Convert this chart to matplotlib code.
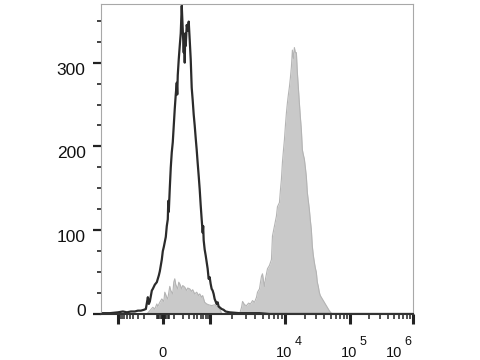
import numpy as np
import matplotlib
matplotlib.use("Agg")
import matplotlib.pyplot as plt
import matplotlib.transforms as mtransforms

plt.rcParams['font.family'] = ['Liberation Sans', 'DejaVu Sans']

# display channel (0 = left edge of the plot) and event counts
black_ch = [0, 9, 17, 22, 26, 30, 34, 37, 40, 43, 45, 47, 48, 49, 51, 52, 54, 56, 58,
            59, 61, 62, 63, 65, 66, 67, 67.5, 68, 69, 70, 71, 72, 73, 74, 75, 76, 76.5,
            77, 78, 79, 80, 81, 82, 83, 83.5, 84, 84.5, 85, 86, 87, 88, 89, 90, 91, 92,
            93, 94, 95, 96, 97, 98, 99, 100, 101, 102, 102.5, 103, 104, 105, 106, 107,
            108, 109, 110, 111, 112, 113, 114, 115, 116, 117, 118, 119, 121, 123, 125,
            129, 139, 149, 159, 169, 312]
black_n = [1, 1, 2, 3, 2, 3, 3, 4, 4, 5, 6, 20, 12, 15, 28, 30, 35, 38, 46,
           51, 65, 75, 80, 92, 105, 113, 135, 122, 150, 175, 193, 205, 225, 245, 262, 276, 262,
           285, 304, 320, 335, 368, 340, 312, 330, 300, 335, 320, 345, 338, 349, 327, 304, 270, 255,
           238, 225, 210, 196, 180, 165, 149, 130, 113, 97, 105, 88, 77, 70, 62,
           54, 42, 44, 36, 30, 28, 24, 18, 15, 12, 14, 9, 8, 6, 5,
           3, 2, 1, 1, 1, 0, 0]

gray_ch = [46, 49, 52, 54, 56, 57, 59, 61, 63, 64, 66, 67, 69, 70, 72, 73, 74, 75, 77,
           78, 79, 81, 82, 84, 86, 87, 89, 91, 92, 94, 96, 98, 99, 101, 102, 104, 106,
           108, 111, 114, 117, 119, 121, 123, 139, 141, 142, 144, 146, 148, 150, 152, 154,
           156, 157, 159, 160, 161, 162, 163, 164, 165, 167, 169, 171, 172, 174, 176, 177,
           179, 180, 181, 182, 183, 184, 185, 186, 187, 188, 189, 190, 191, 192, 193, 194,
           195, 196, 197, 198, 199, 200, 201, 202, 203, 204, 205, 206, 207, 208, 209, 210,
           211, 212, 213, 214, 215, 216, 217, 218, 219, 220, 222, 224, 226, 228, 229, 231, 232]
gray_n = [0, 4, 8, 6, 12, 9, 14, 18, 15, 26, 20, 18, 33, 28, 24, 38, 42, 35, 30,
          38, 36, 30, 34, 32, 28, 31, 30, 27, 29, 24, 26, 22, 24, 20, 22, 14, 12,
          11, 10, 11, 9, 6, 1, 0, 0, 8, 15, 11, 10, 13, 12, 16, 14,
          20, 26, 30, 38, 45, 48, 40, 33, 42, 54, 58, 65, 93, 105, 117, 128,
          133, 148, 161, 181, 195, 208, 225, 240, 252, 262, 271, 282, 295, 315, 305,
          318, 312, 312, 288, 270, 252, 235, 220, 196, 190, 185, 175, 164, 145, 135, 125,
          112, 101, 81, 70, 62, 55, 50, 38, 33, 26, 22, 18, 14, 10, 6, 4, 1, 0]

# axis calibration: value -> display channel at the decade marks
dec_values = [-1e3, 0, 1e3, 1e4, 1e5, 1e6]
dec_ch = [17, 62, 109, 185, 250, 313]
exp_values = [1e4, 1e5, 1e6]
exp_texts = ['4', '5', '6']
y_major = [0, 100, 200, 300]
y_minor = [25, 50, 75, 125, 150, 175, 225, 250, 275, 325, 350]


def to_ch(v):
    g = np.arcsinh(np.asarray(v, dtype=float) / 150) / np.log(10)
    g_dec = np.arcsinh(np.asarray(dec_values) / 150) / np.log(10)
    return np.interp(g, g_dec, dec_ch)


minor_values = ([-k * 100 for k in range(2, 10)] + [-k * 10 for k in range(1, 6)]
                + [k * 10 for k in range(1, 6)] + [k * 100 for k in range(1, 10)]
                + [k * 1e3 for k in range(2, 10)] + [k * 1e4 for k in range(2, 10)]
                + [k * 1e5 for k in range(2, 10)])

fig = plt.figure(figsize=(4.8, 3.6), dpi=100)
ax = fig.add_axes([101 / 480, 46 / 360, 312 / 480, 310 / 360])

ax.fill_between(gray_ch, gray_n, color='#c9c9c9', lw=0)
ax.plot(gray_ch, gray_n, color='#b4b4b4', lw=0.8)
ax.plot(black_ch, black_n, color='#2b2b2b', lw=1.6)

ax.set_xlim(0, 312)
ax.set_ylim(0, 370)

for side in ['left', 'top', 'right']:
    ax.spines[side].set_color('#a8a8a8')
    ax.spines[side].set_linewidth(0.8)
ax.spines['bottom'].set_color('#333333')
ax.spines['bottom'].set_linewidth(1.5)

ax.set_yticks(y_major)
ax.set_yticks(y_minor, minor=True)
ax.tick_params(axis='y', which='major', length=6, width=1.6, color='#222222',
               labelsize=12.5, pad=5, labelcolor='#111111')
ax.tick_params(axis='y', which='minor', length=3, width=1.2, color='#222222')
for lab, val in zip(ax.get_yticklabels(), y_major):
    dy = 0.045 if val == 0 else -0.06
    lab.set_transform(lab.get_transform() +
                      mtransforms.ScaledTranslation(0, dy, fig.dpi_scale_trans))

ax.set_xticks(to_ch(dec_values))
ax.set_xticks(to_ch(minor_values), minor=True)
ax.set_xticklabels([])
ax.tick_params(axis='x', which='major', length=7, width=2.2, color='#222222')
ax.tick_params(axis='x', which='minor', length=3.5, width=1.1, color='#222222')

# x labels: "0" plus 10^n written as base and raised exponent
trans = mtransforms.blended_transform_factory(ax.transData, ax.transAxes)
ax.text(to_ch(0), -0.139, '0', transform=trans, ha='center', va='baseline',
        fontsize=10.5, color='#111111')
for val, txt in zip(exp_values, exp_texts):
    x = to_ch(val) + (7 if val < 1e6 else -11)
    ax.text(x, -0.139, '10', transform=trans, ha='right', va='baseline',
            fontsize=10.5, color='#111111')
    ax.text(x + 2, -0.1, txt, transform=trans, ha='left', va='baseline',
            fontsize=9, color='#111111')

fig.savefig('out.png', dpi=100)
